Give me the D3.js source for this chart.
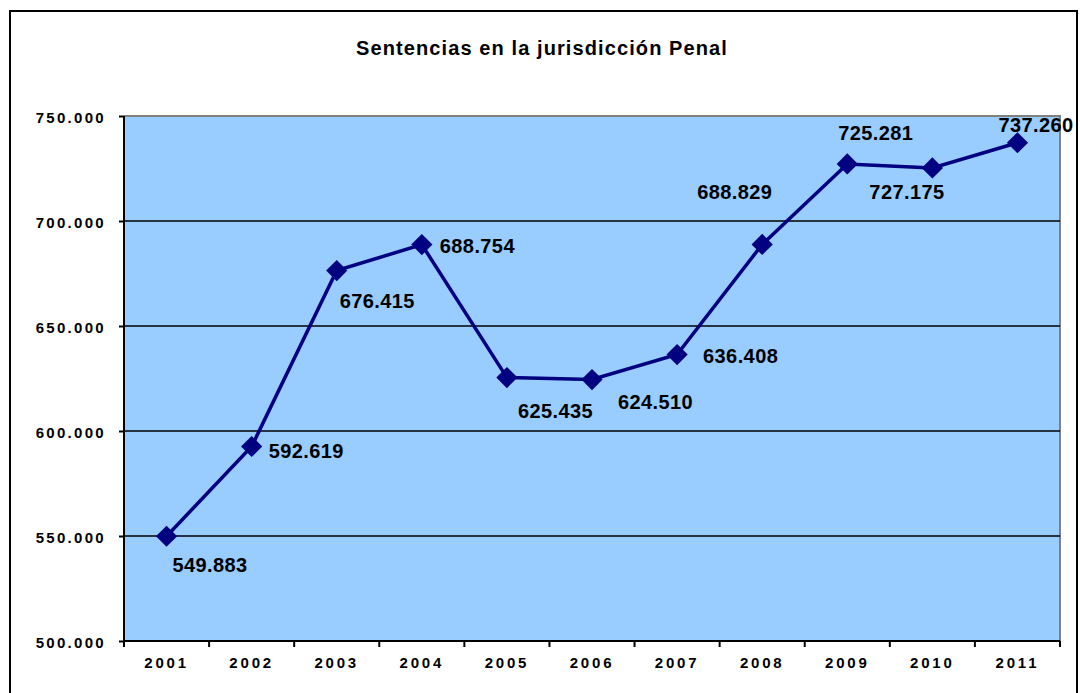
<!DOCTYPE html>
<html>
<head>
<meta charset="utf-8">
<script src="https://cdn.jsdelivr.net/npm/d3@7"></script>
<style>
  body { margin: 0; background: #fff; }
  svg { display: block; font-family: Arial, "Liberation Sans", sans-serif; }
</style>
</head>
<body>
<svg id="chart" width="1080" height="693"></svg>
<script>
// data
const years = ['2001', '2002', '2003', '2004', '2005', '2006', '2007', '2008', '2009', '2010', '2011'];
const sentencias = [549.883, 592.619, 676.415, 688.754, 625.435, 624.510, 636.408, 688.829, 727.175, 725.281, 737.260];
// label texts as printed on the original (2009/2010 appear swapped there)
const labelTexts = ['549.883', '592.619', '676.415', '688.754', '625.435', '624.510', '636.408', '688.829', '725.281', '727.175', '737.260'];
const yTicks = [500, 550, 600, 650, 700, 750];

// label placement relative to each marker (dx, dy to baseline start)
const labelOffsets = [
  [6, 36], [17, 11], [3, 37], [18, 8], [11, 40], [26, 29],
  [26, 8], [-65, -45], [-9, -24], [-63, 31], [-19, -11]
];

const svg = d3.select('#chart'),
  margin = {left: 124, top: 116, right: 1060, bottom: 641};

// outer frame
svg.append('rect')
  .attr('x', 10).attr('y', 11)
  .attr('width', 1067).attr('height', 700)
  .attr('fill', '#fff')
  .attr('stroke', '#000')
  .attr('stroke-width', 2);

svg.append('text')
  .attr('x', 542).attr('y', 55)
  .attr('text-anchor', 'middle')
  .style('font-size', '20px')
  .style('font-weight', 'bold')
  .style('letter-spacing', '1.1px')
  .text('Sentencias en la jurisdicción Penal');

let x = d3.scaleBand()
  .domain(years)
  .range([margin.left, margin.right]);

let y = d3.scaleLinear()
  .domain([500, 750])
  .range([margin.bottom, margin.top]);

// plot area
svg.append('rect')
  .attr('x', margin.left).attr('y', margin.top)
  .attr('width', margin.right - margin.left)
  .attr('height', margin.bottom - margin.top)
  .attr('fill', '#99ccff');

// top + right edge in grey
svg.append('path')
  .attr('d', 'M' + margin.left + ',' + margin.top + 'H' + margin.right + 'V' + margin.bottom)
  .attr('fill', 'none')
  .attr('stroke', '#808080')
  .attr('stroke-width', 2);

// gridlines
svg.append('g')
  .selectAll('line')
  .data(yTicks.filter(d => d > 500 && d < 750))
  .join('line')
  .attr('x1', margin.left).attr('x2', margin.right)
  .attr('y1', d => y(d)).attr('y2', d => y(d))
  .attr('stroke', '#000')
  .attr('stroke-width', 1.6);

// y axis
let yAxis = svg.append('g')
  .attr('transform', 'translate(' + margin.left + ',0)')
  .call(d3.axisLeft(y).tickValues(yTicks).tickSize(5).tickPadding(13)
    .tickFormat(d => d3.format('.3f')(d).replace(',', '.')));
yAxis.select('.domain').attr('stroke-width', 2).attr('d', 'M0,' + margin.top + 'V' + margin.bottom);
yAxis.selectAll('.tick line').attr('stroke-width', 2);
yAxis.selectAll('text')
  .attr('fill', '#000')
  .style('font-size', '15px')
  .style('font-weight', 'bold')
  .style('letter-spacing', '2.3px')
  .attr('dy', '0.4em');

// x axis
let xAxis = svg.append('g')
  .attr('transform', 'translate(0,' + margin.bottom + ')')
  .call(d3.axisBottom(x).tickSize(0).tickPadding(16));
xAxis.select('.domain').attr('stroke-width', 2).attr('d', 'M' + margin.left + ',0H' + margin.right);
xAxis.selectAll('text')
  .attr('fill', '#000')
  .style('font-size', '15px')
  .style('font-weight', 'bold')
  .style('letter-spacing', '2.8px');

// tick marks at band boundaries
svg.append('g')
  .selectAll('line')
  .data(years.concat(['end']))
  .join('line')
  .attr('x1', (d, i) => margin.left + i * x.step())
  .attr('x2', (d, i) => margin.left + i * x.step())
  .attr('y1', margin.bottom).attr('y2', margin.bottom + 6)
  .attr('stroke', '#000')
  .attr('stroke-width', 2);

const cx = d => x(d) + x.bandwidth() / 2;

// the line
let line = d3.line()
  .x((d, i) => cx(years[i]))
  .y(d => y(d));

svg.append('path')
  .datum(sentencias)
  .attr('fill', 'none')
  .attr('stroke', '#000080')
  .attr('stroke-width', 3.5)
  .attr('d', line);

// diamond markers
svg.append('g')
  .selectAll('path')
  .data(sentencias)
  .join('path')
  .attr('d', d3.symbol().type(d3.symbolSquare).size(225))
  .attr('transform', (d, i) => 'translate(' + cx(years[i]) + ',' + y(d) + ') rotate(45)')
  .attr('fill', '#000080');

// value labels
svg.append('g')
  .selectAll('text')
  .data(sentencias)
  .join('text')
  .attr('x', (d, i) => cx(years[i]) + labelOffsets[i][0])
  .attr('y', (d, i) => y(d) + labelOffsets[i][1])
  .style('font-size', '20px')
  .style('font-weight', 'bold')
  .style('letter-spacing', '0.4px')
  .attr('fill', '#000')
  .text((d, i) => labelTexts[i]);
</script>
</body>
</html>
